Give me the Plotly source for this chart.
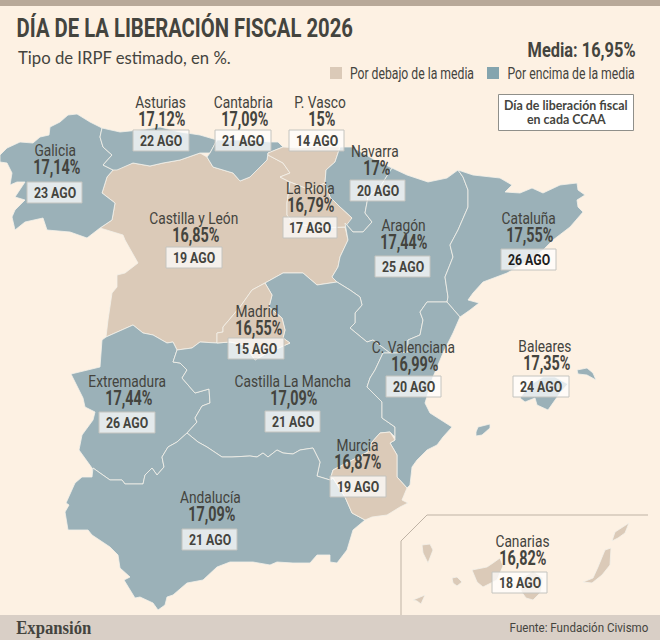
import json
import plotly.graph_objects as go

# datos de cada comunidad
NOMBRES = ["Galicia", "Asturias", "Cantabria", "P. Vasco", "Navarra", "La Rioja", "Castilla y León",
           "Aragón", "Cataluña", "Madrid", "Extremadura", "Castilla La Mancha", "C. Valenciana",
           "Baleares", "Murcia", "Andalucía", "Canarias"]
TIPOS = [17.14, 17.12, 17.09, 15, 17, 16.79, 16.85, 17.44, 17.55, 16.55, 17.44, 17.09, 16.99, 17.35, 16.87, 17.09, 16.82]
FECHAS = ["23 AGO", "22 AGO", "21 AGO", "14 AGO", "20 AGO", "17 AGO", "19 AGO", "25 AGO", "26 AGO", "15 AGO",
          "26 AGO", "21 AGO", "20 AGO", "24 AGO", "19 AGO", "21 AGO", "18 AGO"]
MEDIA = 16.95

# posicion de las etiquetas (x nombre, y nombre, x cifra, y cifra, x0 caja, x1 caja, y0 caja)
ETIQUETAS = [(55, 150, 57, 167, 27, 82, 182), (160, 102, 162, 119, 133, 189, 130), (243, 102, 245, 119, 215, 271, 130),
             (320, 102, 322, 119, 289, 344, 130), (375, 151, 377, 168, 350, 405, 180), (310, 188, 311, 205, 283, 337, 217),
             (194, 218, 196, 235, 166, 222, 247), (403, 225, 404, 242, 375, 430, 256), (528, 218, 530, 235, 501, 556, 249),
             (257, 311, 259, 328, 228, 284, 338), (127, 381, 129, 398, 99, 155, 412), (293, 381, 294, 398, 265, 320, 411),
             (413, 347, 415, 364, 386, 441, 376), (545, 346, 547, 363, 513, 569, 376), (357, 445, 358, 462, 330, 386, 476),
             (210, 497, 212, 514, 182, 237, 529), (522, 541, 523, 558, 492, 547, 572)]

# contornos
GALICIA = [(102, 128), (90, 122), (77, 114), (68, 115), (60, 122), (50, 127), (49, 135), (40, 137), (33, 143), (20, 142),
           (7, 148), (0, 155), (0, 162), (7, 163), (12, 173), (10, 185), (17, 182), (25, 182), (15, 197), (25, 200),
           (15, 210), (12, 217), (15, 230), (25, 222), (43, 218), (47, 230), (70, 232), (87, 238), (100, 228), (112, 220),
           (115, 203), (102, 193), (107, 177), (113, 170), (103, 165), (112, 155), (103, 147), (100, 137)]
ASTURIAS = [(102, 128), (120, 132), (140, 130), (160, 127), (180, 132), (200, 135), (217, 140), (210, 153), (200, 153),
            (180, 160), (163, 163), (150, 166), (133, 163), (117, 170), (113, 170), (103, 165), (112, 155), (103, 147), (100, 137)]
CANTABRIA = [(217, 140), (250, 140), (270, 142), (278, 142), (283, 147), (268, 153), (267, 160), (250, 177), (240, 181),
             (233, 173), (213, 167), (207, 157), (210, 153)]
PAIS_VASCO = [(283, 147), (300, 148), (320, 146), (340, 147), (335, 162), (326, 170), (325, 183), (310, 190), (290, 182),
              (280, 177), (290, 173), (283, 163), (268, 155), (268, 153)]
NAVARRA = [(340, 147), (352, 147), (375, 160), (392, 168), (380, 187), (368, 197), (365, 213), (372, 222), (363, 232),
           (353, 232), (345, 223), (352, 218), (340, 207), (330, 197), (325, 183), (326, 170), (335, 162)]
LA_RIOJA = [(290, 182), (310, 190), (325, 183), (330, 197), (340, 207), (352, 218), (345, 227), (320, 228), (293, 223),
            (287, 215), (287, 203)]
CASTILLA_LEON = [(113, 170), (133, 163), (150, 166), (163, 163), (180, 160), (200, 153), (207, 157), (213, 167), (233, 173),
                 (240, 181), (250, 177), (267, 160), (268, 155), (283, 163), (290, 173), (280, 177), (290, 182), (287, 203),
                 (287, 215), (293, 223), (320, 228), (345, 227), (348, 240), (340, 257), (338, 267), (332, 277), (337, 282),
                 (330, 283), (317, 285), (303, 273), (283, 273), (265, 283), (252, 290), (240, 307), (223, 327), (223, 332),
                 (217, 333), (217, 343), (200, 342), (192, 348), (177, 350), (173, 342), (167, 343), (153, 335), (143, 333),
                 (133, 325), (115, 333), (106, 337), (108, 320), (112, 293), (117, 287), (117, 275), (125, 273), (138, 263),
                 (125, 240), (123, 235), (100, 228), (112, 220), (115, 203), (102, 193), (107, 177)]
ARAGON = [(392, 168), (407, 175), (428, 182), (447, 178), (458, 170), (463, 177), (468, 190), (468, 207), (458, 230),
          (450, 245), (453, 257), (445, 277), (448, 297), (447, 302), (427, 302), (420, 312), (423, 320), (420, 335),
          (408, 340), (408, 352), (397, 353), (390, 353), (373, 340), (367, 342), (350, 328), (355, 323), (355, 313),
          (362, 305), (360, 297), (350, 290), (337, 282), (332, 277), (338, 267), (340, 257), (348, 240), (345, 223),
          (353, 232), (363, 232), (372, 222), (365, 213), (368, 197), (380, 187)]
CATALUNA = [(458, 170), (473, 175), (500, 178), (512, 185), (505, 192), (520, 193), (532, 188), (543, 193), (560, 185),
            (577, 183), (578, 190), (585, 195), (577, 200), (578, 207), (583, 212), (570, 227), (553, 240), (543, 250),
            (530, 260), (507, 273), (483, 282), (473, 293), (468, 300), (479, 303), (470, 310), (460, 317), (447, 302),
            (448, 297), (445, 277), (453, 257), (450, 245), (458, 230), (468, 207), (468, 190), (463, 177)]
MADRID = [(265, 283), (272, 295), (269, 307), (282, 318), (285, 330), (283, 338), (290, 343), (267, 353), (255, 360),
          (245, 345), (230, 342), (217, 343), (217, 333), (223, 332), (223, 327), (240, 307), (252, 290)]
EXTREMADURA = [(106, 337), (115, 333), (133, 325), (143, 333), (153, 335), (167, 343), (173, 342), (177, 350), (173, 362),
               (180, 363), (187, 370), (182, 378), (195, 393), (209, 389), (210, 403), (202, 406), (195, 418), (197, 422),
               (187, 433), (177, 442), (168, 447), (162, 457), (164, 467), (157, 475), (152, 468), (145, 475), (143, 484),
               (125, 484), (122, 480), (110, 480), (100, 473), (93, 468), (92, 477), (92, 468), (79, 450), (82, 435),
               (93, 420), (95, 412), (85, 407), (83, 398), (71, 374), (100, 367), (102, 340)]
CASTILLA_MANCHA = [(187, 433), (197, 422), (195, 418), (202, 406), (210, 403), (209, 389), (195, 393), (182, 378), (187, 370),
                   (180, 363), (173, 362), (177, 350), (192, 348), (200, 342), (217, 343), (230, 342), (245, 345), (255, 360),
                   (267, 353), (290, 343), (283, 338), (285, 330), (282, 318), (269, 307), (272, 295), (265, 283), (283, 273),
                   (303, 273), (317, 285), (330, 283), (337, 282), (350, 290), (360, 297), (362, 305), (355, 313), (355, 323),
                   (350, 328), (367, 342), (373, 340), (390, 353), (383, 353), (375, 370), (370, 378), (367, 387), (382, 402),
                   (382, 418), (395, 427), (395, 437), (390, 432), (380, 433), (372, 442), (368, 452), (333, 470), (330, 480),
                   (317, 476), (320, 462), (313, 448), (300, 450), (293, 454), (283, 453), (277, 450), (268, 457), (263, 453),
                   (257, 457), (250, 456), (232, 457), (222, 457), (207, 447), (198, 442)]
VALENCIA = [(447, 302), (460, 317), (453, 333), (443, 353), (433, 377), (425, 403), (430, 413), (452, 427), (443, 437),
            (437, 445), (427, 450), (417, 460), (412, 467), (410, 485), (407, 488), (397, 477), (397, 455), (390, 443),
            (395, 440), (395, 427), (382, 418), (382, 402), (367, 387), (370, 378), (375, 370), (383, 353), (390, 353),
            (397, 353), (408, 352), (408, 340), (420, 335), (423, 320), (420, 312), (427, 302)]
MURCIA = [(380, 433), (390, 432), (395, 440), (390, 443), (397, 455), (397, 477), (407, 488), (402, 500), (408, 503),
          (400, 507), (387, 515), (372, 517), (365, 520), (352, 513), (345, 497), (333, 478), (330, 480), (333, 470),
          (368, 452), (372, 442)]
ANDALUCIA = [(187, 433), (198, 442), (207, 447), (222, 457), (232, 457), (250, 456), (257, 457), (263, 453), (268, 457),
             (277, 450), (283, 453), (293, 454), (300, 450), (313, 448), (320, 462), (317, 476), (330, 480), (333, 478),
             (345, 497), (352, 513), (365, 520), (353, 530), (347, 550), (337, 563), (330, 562), (330, 555), (317, 555),
             (310, 563), (293, 563), (277, 562), (270, 565), (253, 562), (230, 562), (217, 567), (203, 580), (187, 583),
             (173, 595), (167, 597), (165, 605), (158, 610), (153, 603), (140, 597), (135, 598), (124, 580), (130, 577),
             (120, 568), (118, 555), (110, 547), (92, 535), (88, 530), (68, 530), (65, 512), (69, 505), (66, 503), (75, 483),
             (82, 477), (92, 477), (93, 468), (100, 473), (110, 480), (122, 480), (125, 484), (143, 484), (145, 475),
             (152, 468), (157, 475), (164, 467), (162, 457), (168, 447), (177, 442)]
MALLORCA = [(520, 398), (530, 385), (543, 377), (555, 377), (568, 384), (560, 393), (548, 410), (537, 405), (535, 398), (525, 402)]
MENORCA = [(577, 370), (587, 368), (593, 373), (596, 380), (587, 375), (578, 374)]
IBIZA = [(476, 432), (478, 427), (490, 424), (490, 428), (482, 435), (476, 436)]
LANZAROTE = [(629, 523), (623, 527), (615, 532), (612, 541), (618, 538), (625, 533)]
FUERTEVENTURA = [(611, 548), (605, 550), (598, 567), (593, 578), (583, 582), (592, 583), (602, 575), (610, 565)]
GRAN_CANARIA = [(522, 578), (533, 571), (543, 578), (541, 592), (533, 600), (526, 598), (521, 591)]
TENERIFE = [(472, 570), (487, 567), (493, 563), (500, 558), (503, 566), (497, 580), (483, 587), (477, 582)]
GOMERA = [(452, 578), (457, 577), (462, 582), (457, 586), (453, 583)]
LA_PALMA = [(422, 545), (430, 544), (433, 550), (428, 563), (423, 553)]
HIERRO = [(413, 600), (418, 598), (425, 595), (421, 604), (417, 601)]

# Orden de dibujo, con el indice de la comunidad en NOMBRES
CONTORNOS = [(CASTILLA_LEON, 6), (GALICIA, 0), (ASTURIAS, 1), (CANTABRIA, 2), (PAIS_VASCO, 3), (NAVARRA, 4), (LA_RIOJA, 5),
             (ARAGON, 7), (CATALUNA, 8), (EXTREMADURA, 10), (CASTILLA_MANCHA, 11), (VALENCIA, 12), (ANDALUCIA, 15),
             (MURCIA, 14), (MADRID, 9), (MALLORCA, 13), (MENORCA, 13), (IBIZA, 13), (LANZAROTE, 16), (FUERTEVENTURA, 16),
             (GRAN_CANARIA, 16), (TENERIFE, 16), (GOMERA, 16), (LA_PALMA, 16), (HIERRO, 16)]

FONDO = "#fdf1e3"
AZUL = "#9bb1b8"
BEIGE = "#dbcab8"
TEXTO = "#44443e"

# no hay fuente estrecha instalada: se estrecha Roboto segun el cuerpo de letra
ESTRECHO = {26: 0.78, 20: 0.72, 14: 0.88, 16: 0.86, 20.5: 0.8, 16.5: 0.74, 13: 0.89, 19: 0.88}

fig = go.Figure()

for contorno, i in CONTORNOS:
    xs = [p[0] for p in contorno] + [contorno[0][0]]
    ys = [p[1] for p in contorno] + [contorno[0][1]]
    color = AZUL if TIPOS[i] > MEDIA else BEIGE
    fig.add_trace(go.Scatter(x=xs, y=ys, mode="lines", fill="toself", fillcolor=color,
                             line=dict(color="#f4f1ea", width=0.8), hoverinfo="skip", showlegend=False))


def texto(x, y, s, size, bold=False, anchor="center", family="Roboto", color=TEXTO):
    if bold:
        s = "<b>" + s + "</b>"
    fig.add_annotation(x=x, y=y, text=s, showarrow=False, xanchor=anchor, yanchor="middle",
                       font=dict(family=family, size=size, color=color))


def caja(x0, y0, x1, y1, fill, line):
    fig.add_shape(type="rect", x0=x0, x1=x1, y0=y0, y1=y1, fillcolor=fill, line=dict(color=line, width=1), layer="above")


# bandas de arriba y abajo
fig.add_shape(type="rect", x0=0, x1=660, y0=0, y1=6, fillcolor="#b8a999", line_width=0)
fig.add_shape(type="rect", x0=0, x1=660, y0=615, y1=640, fillcolor="#d9cfc6", line_width=0)

# recuadro de Canarias
fig.add_shape(type="path", path="M 648 515 L 427 515 L 401 541 L 401 615", line=dict(color="#bfb3a5", width=1))

for n, t, f, e in zip(NOMBRES, TIPOS, FECHAS, ETIQUETAS):
    tipo = (f"{t:.2f}".rstrip("0").rstrip(".")).replace(".", ",") + "%"
    texto(e[0], e[1], n, 16)
    texto(e[2], e[3], tipo, 20, bold=True)
    caja(e[4], e[6], e[5], e[6] + 21, "rgba(255,255,255,0.72)", "#c4c4bf")
    destacada = n == "Cataluña"
    texto((e[4] + e[5]) / 2, e[6] + 11, f, 14, bold=True, color="#1e1e1c" if destacada else TEXTO)

# titulos
texto(185, 28, "DÍA DE LA LIBERACIÓN FISCAL 2026", 26, bold=True)
texto(16, 58, "Tipo de IRPF estimado, en %.", 16.7, anchor="left", family="Lato")
texto(581, 50, "Media: 16,95%", 20.5, bold=True)

# leyenda
fig.add_shape(type="rect", x0=330, x1=342, y0=67, y1=79, fillcolor=BEIGE, line_width=0)
fig.add_shape(type="rect", x0=487, x1=499, y0=67, y1=79, fillcolor="#84a4ae", line_width=0)
texto(411.5, 73, "Por debajo de la media", 16.5)
texto(571, 73, "Por encima de la media", 16.5)

# nota
caja(498.5, 94.5, 633.5, 130.5, "#ffffff", "#8f8f8a")
texto(566, 105, "Día de liberación fiscal", 12.4, bold=True, family="Lato")
texto(566, 119, "en cada CCAA", 12.4, bold=True, family="Lato")

# pie
texto(54, 627, "Expansión", 19, bold=True, family="Liberation Serif")
texto(579, 627, "Fuente: Fundación Civismo", 13)

fig.update_layout(width=660, height=640, margin=dict(l=0, r=0, t=0, b=0), paper_bgcolor=FONDO, plot_bgcolor=FONDO,
                  xaxis=dict(range=[0, 660], visible=False, fixedrange=True),
                  yaxis=dict(range=[640, 0], visible=False, fixedrange=True))

estrechar = """
document.body.style.margin = '0';
var factores = %s;
document.querySelectorAll('.annotation-text').forEach(function (t) {
    var f = factores[parseFloat(t.style.fontSize)];
    if (f) {
        var cx = parseFloat(t.getAttribute('x'));
        t.setAttribute('transform', 'translate(' + cx + ',0) scale(' + f + ',1) translate(' + (-cx) + ',0)');
    }
});
""" % json.dumps(ESTRECHO)

fig.write_html("out.html", config=dict(displayModeBar=False), post_script=estrechar)
